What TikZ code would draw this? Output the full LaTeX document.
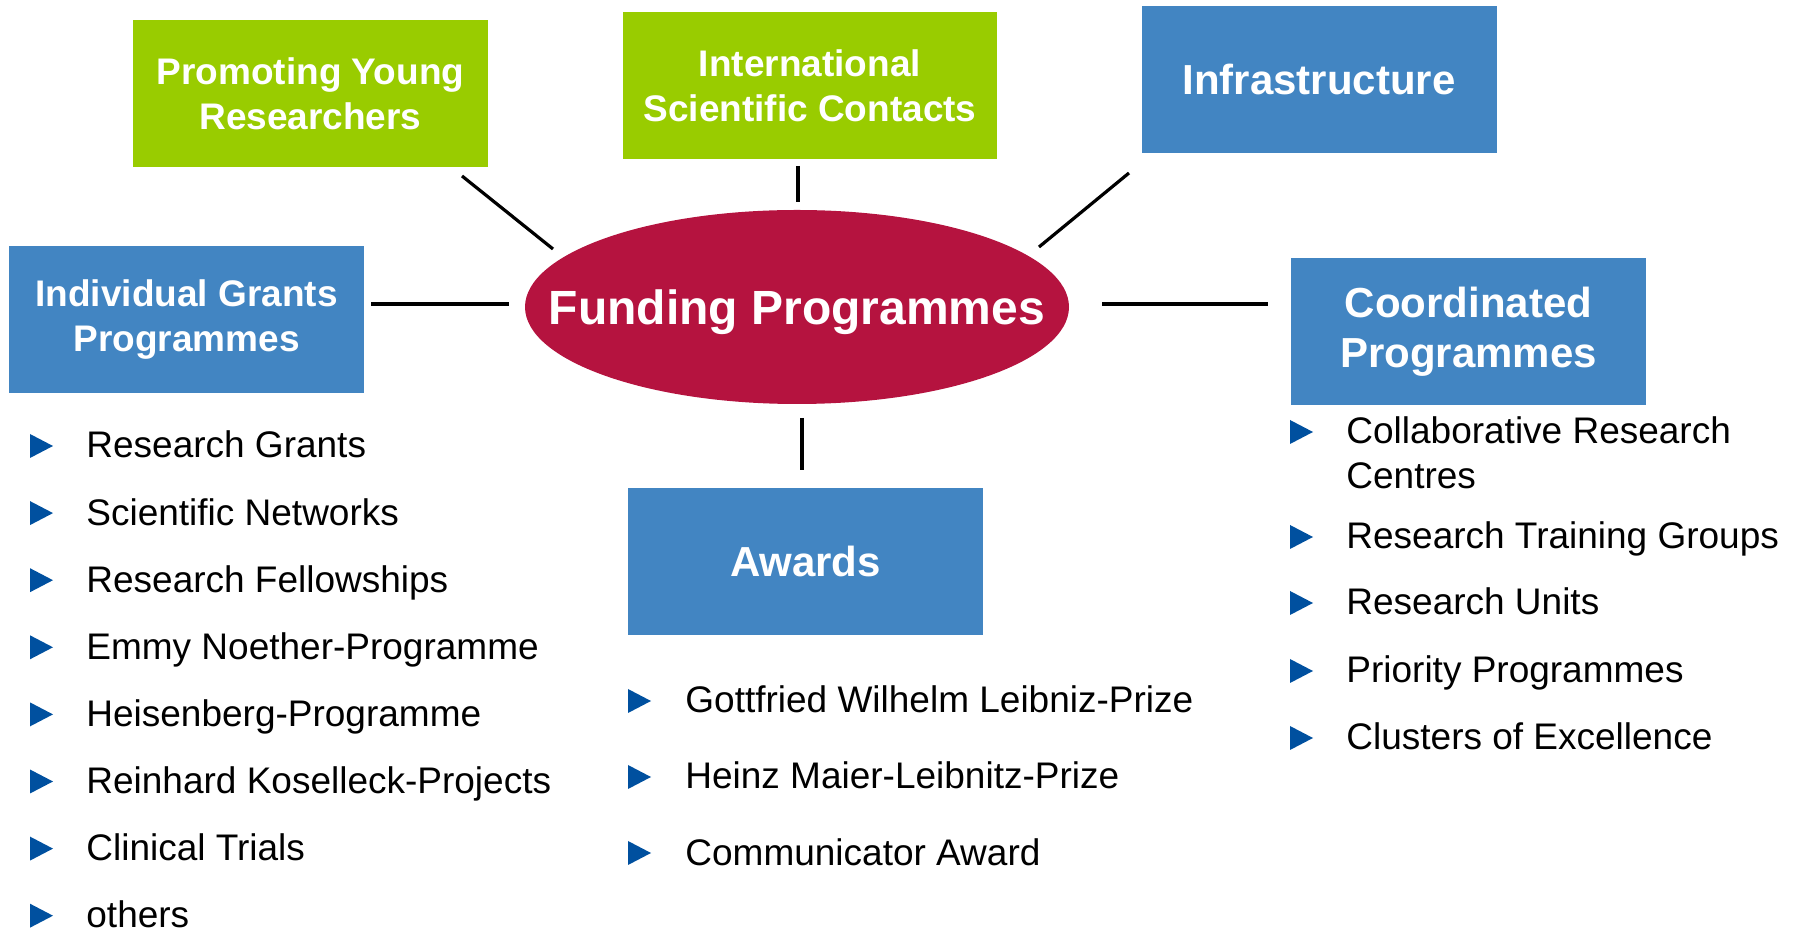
\documentclass[tikz,border=0pt]{standalone}
\usepackage{fontspec}
\setmainfont{Liberation Sans}
\usetikzlibrary{shapes.geometric}
\definecolor{dfggreen}{HTML}{99CC00}
\definecolor{dfgblue}{HTML}{4285C2}
\definecolor{dfgred}{HTML}{B5133F}
\definecolor{tipblue}{HTML}{00509F}
\tikzset{
  box/.style={fill=dfgblue, text=white, align=center, inner sep=0pt,
    minimum width=177.5pt, minimum height=73.5pt,
    font=\bfseries\fontsize{18.5}{22.5}\selectfont},
  greenbox/.style={box, fill=dfggreen},
  bigbox/.style={box, font=\bfseries\fontsize{21}{25}\selectfont},
  item/.style={anchor=base west, inner sep=0pt, align=left,
    font=\fontsize{18.5}{22.5}\selectfont},
  link/.style={line width=1.6pt, black},
}
\newcommand{\tip}[2]{\fill[tipblue] (#1,#2-12) -- ++(23,12) -- ++(-23,12) -- cycle;}
\begin{document}
\begin{tikzpicture}[x=0.5pt,y=-0.5pt]
\useasboundingbox (0,0) rectangle (1794,929);
% centre
\node[ellipse, fill=dfgred, text=white, minimum width=272pt, minimum height=97pt,
  inner sep=0pt, text height=18pt, text depth=0pt,
  font=\bfseries\fontsize{24}{28}\selectfont] (fund) at (797,307)
  {\makebox[0pt]{Funding Programmes}};
% boxes
\node[greenbox] (young) at (310.5,93.5) {Promoting Young\\Researchers};
\node[greenbox, minimum width=187pt] (intl) at (810,85.5) {International\\Scientific Contacts};
\node[bigbox] (infra) at (1319,79.5) {Infrastructure};
\node[box] (indiv) at (186.5,319.5) {Individual Grants\\Programmes};
\node[bigbox] (coord) at (1468.5,331.5) {Coordinated\\Programmes};
\node[bigbox] (awards) at (805.5,561.5) {Awards};
% connectors (free ends)
\coordinate (y1) at (462,176);  \coordinate (y2) at (553,249);
\coordinate (n1) at (798,166);  \coordinate (n2) at (798,202);
\coordinate (f1) at (1129,173); \coordinate (f2) at (1039,247);
\coordinate (i1) at (371,304);  \coordinate (i2) at (509,304);
\coordinate (c1) at (1102,304); \coordinate (c2) at (1268,304);
\coordinate (a1) at (802,418);  \coordinate (a2) at (802,470);
\draw[link] (y1) -- (y2);
\draw[link] (n1) -- (n2);
\draw[link] (f1) -- (f2);
\draw[link] (i1) -- (i2);
\draw[link] (c1) -- (c2);
\draw[link] (a1) -- (a2);
% lists
\foreach \t [count=\i] in {Research Grants, Scientific Networks, Research Fellowships,
  Emmy Noether-Programme, Heisenberg-Programme, Reinhard Koselleck-Projects,
  Clinical Trials, others} {
  \pgfmathsetmacro{\yy}{446+67.1*(\i-1)}
  \tip{30}{\yy}
  \node[item] (ind\i) at (86,\yy+12) {\t};
}
\foreach \y/\t [count=\i] in {701/Gottfried Wilhelm Leibniz-Prize,
  777/Heinz Maier-Leibnitz-Prize, 853/Communicator Award} {
  \tip{628}{\y}
  \node[item] (aw\i) at (685,\y+12) {\t};
}
\foreach \y/\d/\t [count=\i] in {432/45/{Collaborative Research\\Centres},
  537/0/Research Training Groups, 603/0/Research Units,
  671/0/Priority Programmes, 738/0/Clusters of Excellence} {
  \tip{1290}{\y}
  \node[item] (co\i) at (1346,\y+12+\d) {\t};
}
\end{tikzpicture}
\end{document}
